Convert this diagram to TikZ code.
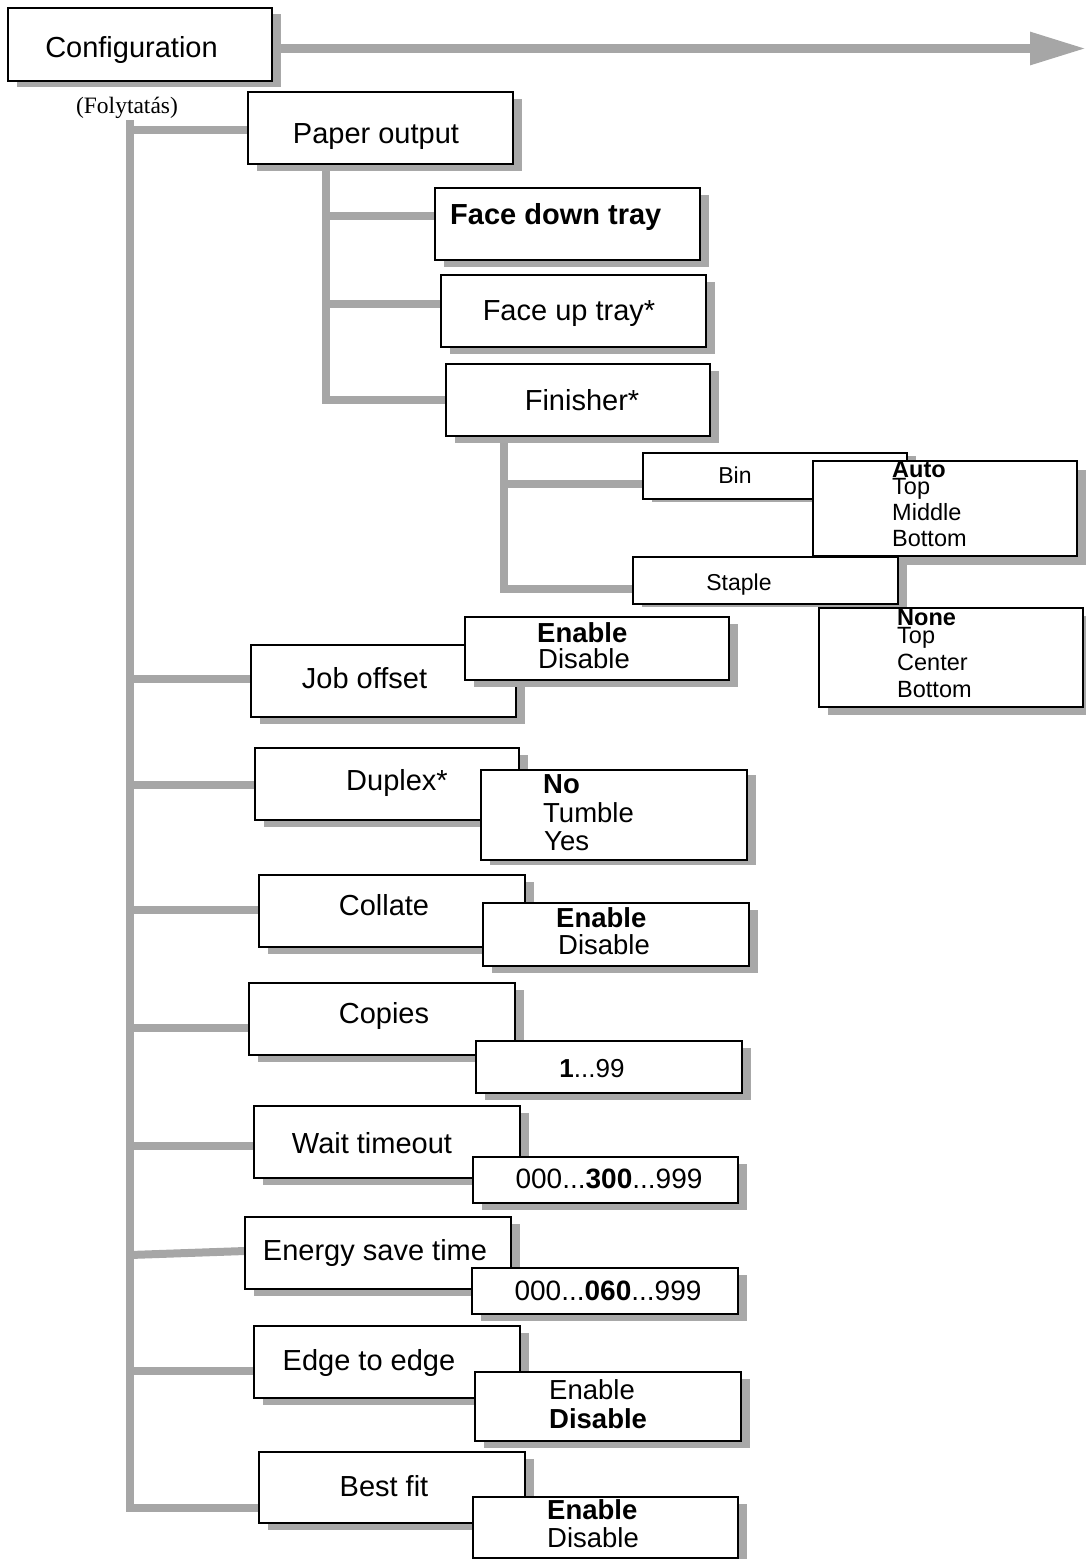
\documentclass[tikz,border=0pt]{standalone}
\usepackage{fontspec}
\setmainfont{Liberation Sans}
\newfontfamily\notefont{Liberation Serif}
\usetikzlibrary{shadows,arrows.meta,backgrounds}

\definecolor{linkgray}{HTML}{A6A6A6}
\definecolor{shadegray}{HTML}{A8A8A8}

\tikzset{
  box/.style={draw=black, line width=2.4pt, fill=white, rectangle,
    inner sep=0pt, outer sep=0pt, anchor=north west,
    drop shadow={shadow xshift=9pt, shadow yshift=-#1pt, fill=shadegray, opacity=1}},
  box/.default=7,
  link/.style={draw=linkgray, line width=8pt, line join=miter},
  lbl/.style={inner sep=0pt, anchor=base, font=\fontsize{29}{34}\selectfont},
  optl/.style={inner sep=0pt, anchor=base west, font=\fontsize{27.5}{32}\selectfont},
  optb/.style={optl, font=\fontsize{27.5}{32}\selectfont\bfseries},
  subl/.style={inner sep=0pt, anchor=base, font=\fontsize{23}{28}\selectfont},
  smallopt/.style={inner sep=0pt, anchor=base west, font=\fontsize{23.5}{28}\selectfont},
  smallb/.style={smallopt, font=\fontsize{23.5}{28}\selectfont\bfseries},
  vall/.style={inner sep=0pt, anchor=base, font=\fontsize{28}{32}\selectfont},
}

% [shadow drop]{name}{x1}{y1}{x2}{y2}
\newcommand\mkbox[6][7]{%
  \node[box=#1, minimum width={(#5-#3)*1pt}, minimum height={(#6-#4)*1pt}] (#2) at (#3,#4) {};}

\begin{document}
\begin{tikzpicture}[x=1pt, y=-1pt]
\useasboundingbox (0,0) rectangle (1086,1559);

% ---------- boxes ----------
\mkbox[6]{cfg}{8}{8}{272}{81}
\mkbox{po}{248}{92}{513}{164}
\mkbox{fd}{435}{188}{700}{260}
\mkbox{fu}{441}{275}{706}{347}
\mkbox{fi}{446}{364}{710}{436}
\mkbox[3]{bin}{643}{453}{907}{499}
\mkbox[9]{binopt}{813}{461}{1077}{556}
\mkbox[3]{stp}{633}{557}{898}{604}
\mkbox[8]{stpopt}{819}{608}{1083}{707}
\mkbox{jo}{251}{645}{516}{717}
\mkbox{joopt}{465}{617}{729}{680}
\mkbox{dx}{255}{748}{519}{820}
\mkbox[5]{dxopt}{481}{770}{747}{860}
\mkbox{co}{259}{875}{525}{947}
\mkbox{coopt}{483}{903}{749}{966}
\mkbox{cp}{249}{983}{515}{1055}
\mkbox{cpv}{476}{1041}{742}{1093}
\mkbox{wt}{254}{1106}{520}{1178}
\mkbox{wtv}{473}{1157}{738}{1203}
\mkbox{es}{245}{1217}{511}{1289}
\mkbox{esv}{472}{1268}{738}{1314}
\mkbox{ee}{254}{1326}{520}{1398}
\mkbox{eeopt}{475}{1372}{741}{1441}
\mkbox{bf}{259}{1452}{525}{1523}
\mkbox{bfopt}{473}{1497}{738}{1558}

% ---------- connectors, kept behind the boxes ----------
\coordinate (trunk-top) at (130,120);
\coordinate (po-down) at (326,164);
\coordinate (fi-down) at (503.5,436);
\coordinate (cfg-next) at (1086,48.5);

\begin{scope}[on background layer]
  \draw[link, line width=9pt, -{Triangle[length=56pt,width=31pt]}]
    (cfg.east |- 0,48.5) -- (cfg-next);

  % main trunk, ending in the branch to "Best fit"
  \draw[link] (trunk-top) |- (bf.west |- 0,1508);
  \draw[link] (trunk-top |- 0,130)  -- (po.west |- 0,130);
  \draw[link] (trunk-top |- 0,679)  -- (jo.west |- 0,679);
  \draw[link] (trunk-top |- 0,785)  -- (dx.west |- 0,785);
  \draw[link] (trunk-top |- 0,910)  -- (co.west |- 0,910);
  \draw[link] (trunk-top |- 0,1028) -- (cp.west |- 0,1028);
  \draw[link] (trunk-top |- 0,1146) -- (wt.west |- 0,1146);
  \draw[link] (trunk-top |- 0,1255) -- (es.west |- 0,1251);
  \draw[link] (trunk-top |- 0,1371) -- (ee.west |- 0,1371);

  % paper output sub-tree
  \draw[link] (po-down) |- (fi.west |- 0,400);
  \draw[link] (po-down |- 0,216) -- (fd.west |- 0,216);
  \draw[link] (po-down |- 0,304) -- (fu.west |- 0,304);

  % finisher sub-tree
  \draw[link] (fi-down) |- (stp.west |- 0,589);
  \draw[link] (fi-down |- 0,483.5) -- (bin.west |- 0,483.5);
\end{scope}

% ---------- labels ----------
\node[lbl] (cfg-t) at (131.5,57) {Configuration};
\node[inner sep=0pt, anchor=base, font=\notefont\fontsize{23.5}{28}\selectfont] (note) at (127,113) {(Folytatás)};
\node[lbl] (po-t) at (376,143) {Paper output};
\node[lbl, anchor=base west, font=\fontsize{29}{34}\selectfont\bfseries] (fd-t) at (450,224) {Face down tray};
\node[lbl] (fu-t) at (569,320) {Face up tray*};
\node[lbl] (fi-t) at (582,410) {Finisher*};

\node[subl] (bin-t) at (735,483) {Bin};
\node[smallb] (bin-a) at (892,477) {Auto};
\node[smallopt] (bin-b) at (892,494) {Top};
\node[smallopt] (bin-c) at (892,520) {Middle};
\node[smallopt] (bin-d) at (892,546) {Bottom};

\node[subl] (stp-t) at (739,590) {Staple};
\node[smallb] (stp-a) at (897,625) {None};
\node[smallopt] (stp-b) at (897,643) {Top};
\node[smallopt] (stp-c) at (897,670) {Center};
\node[smallopt] (stp-d) at (897,697) {Bottom};

\node[lbl] (jo-t) at (364.5,688) {Job offset};
\node[optb] (jo-a) at (537,642) {Enable};
\node[optl] (jo-b) at (538,668) {Disable};

\node[lbl] (dx-t) at (397,790) {Duplex*};
\node[optb] (dx-a) at (543,793) {No};
\node[optl] (dx-b) at (543,822) {Tumble};
\node[optl] (dx-c) at (544,850) {Yes};

\node[lbl] (co-t) at (384,915) {Collate};
\node[optb] (co-a) at (556,927) {Enable};
\node[optl] (co-b) at (558,954) {Disable};

\node[lbl] (cp-t) at (384,1023) {Copies};
\node[vall, font=\fontsize{26}{30}\selectfont] (cpv-t) at (592,1077) {\textbf{1}...99};

\node[lbl] (wt-t) at (372,1153) {Wait timeout};
\node[vall] (wtv-t) at (609,1188) {000...\textbf{300}...999};

\node[lbl] (es-t) at (375,1260) {Energy save time};
\node[vall] (esv-t) at (608,1300) {000...\textbf{060}...999};

\node[lbl] (ee-t) at (369,1370) {Edge to edge};
\node[optl] (ee-a) at (549,1399) {Enable};
\node[optb] (ee-b) at (549,1428) {Disable};

\node[lbl] (bf-t) at (384,1496) {Best fit};
\node[optb] (bf-a) at (547,1519) {Enable};
\node[optl] (bf-b) at (547,1547) {Disable};
\end{tikzpicture}
\end{document}
